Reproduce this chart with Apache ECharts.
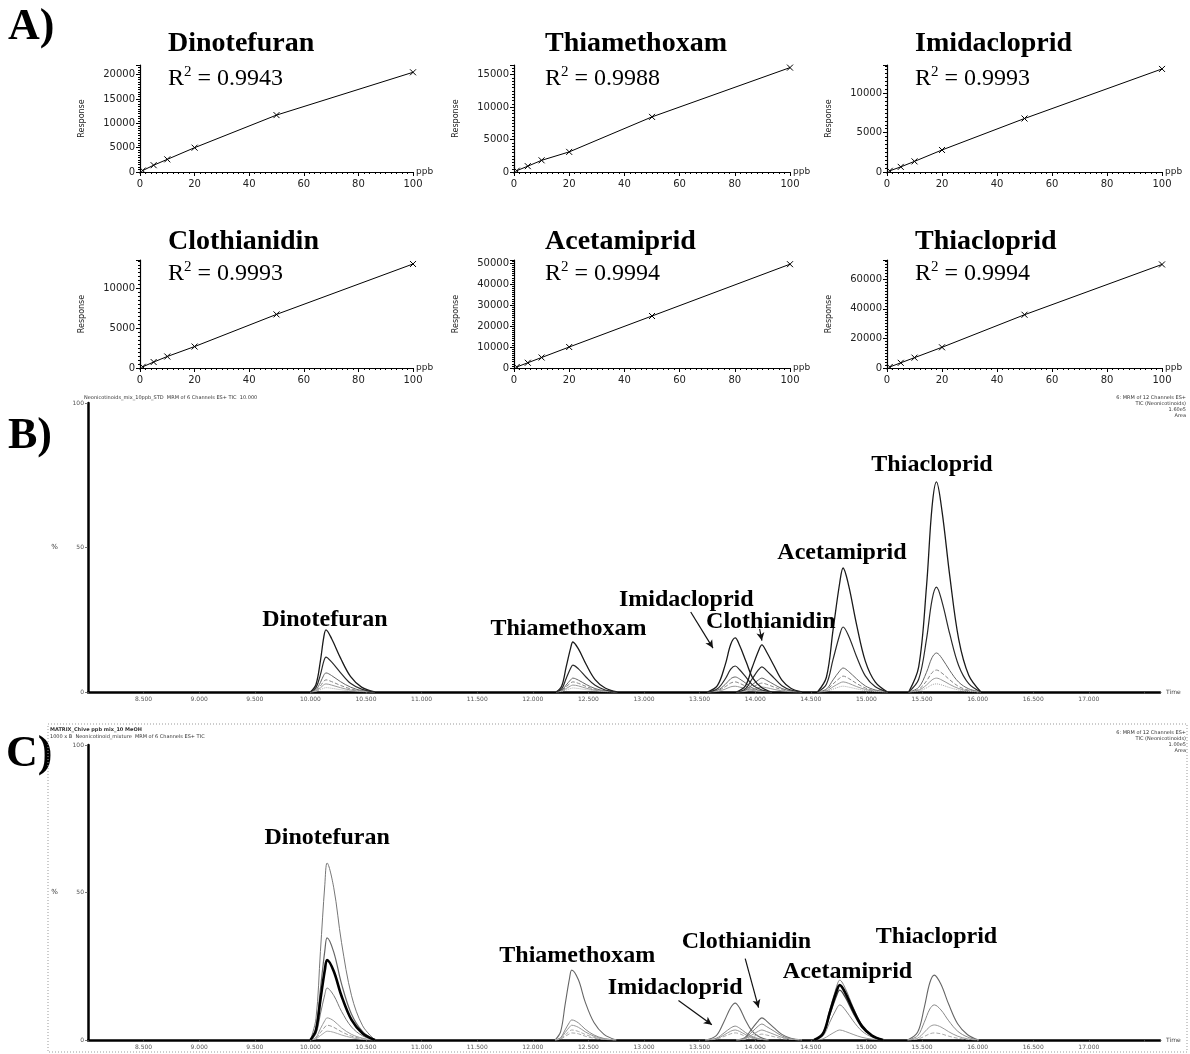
<!DOCTYPE html>
<html><head><meta charset="utf-8">
<script src="https://cdn.jsdelivr.net/npm/echarts@6/dist/echarts.min.js"></script>
<style>html,body{margin:0;padding:0;background:#fff}#c{width:1190px;height:1054px}</style>
</head><body><div id="c"></div>
<script>
// ===== Panel A: calibration curves =====
const compounds = ['Dinotefuran','Thiamethoxam','Imidacloprid','Clothianidin','Acetamiprid','Thiacloprid'];
const r2Values = ['0.9943','0.9988','0.9993','0.9993','0.9994','0.9994'];
const concPpb = [1, 5, 10, 20, 50, 100];
const respDinotefuran  = [300, 1400, 2600, 5000, 11700, 20500];
const respThiamethoxam = [200, 900, 1800, 3100, 8500, 16100];
const respImidacloprid = [150, 650, 1350, 2800, 6800, 13100];
const respClothianidin = [150, 750, 1450, 2700, 6750, 13100];
const respAcetamiprid  = [500, 2500, 5000, 10000, 24800, 49500];
const respThiacloprid  = [700, 3500, 7000, 14000, 36000, 70000];
const respAxisMax      = [22000, 16500, 13600, 13600, 51500, 73000];
const respAxisStep     = [5000, 5000, 5000, 5000, 10000, 20000];
const ppbAxisMax = 100, ppbAxisStep = 20;

// ===== Panel B: chromatogram of standards (time min, % intensity) =====
const tB_Dino = [10.00, 10.05, 10.09, 10.12, 10.14, 10.19, 10.27, 10.36, 10.46, 10.58];
const hB_Dino = [
  [0, 2.6, 10.8, 18.9, 21.5, 18.5, 11.8, 5.4, 1.7, 0],
  [0, 1.5, 6.0, 10.6, 12.1, 10.4, 6.7, 3.0, 1.0, 0],
  [0, 0.8, 3.3, 5.8, 6.6, 5.7, 3.6, 1.7, 0.5, 0],
  [0, 0.5, 2.1, 3.7, 4.2, 3.6, 2.3, 1.1, 0.3, 0],
  [0, 0.3, 1.4, 2.5, 2.8, 2.4, 1.5, 0.7, 0.2, 0],
  [0, 0.2, 0.8, 1.3, 1.5, 1.3, 0.8, 0.4, 0.1, 0]];
const tB_Thiam = [12.21, 12.26, 12.30, 12.34, 12.36, 12.41, 12.48, 12.56, 12.65, 12.76];
const hB_Thiam = [
  [0, 2.1, 8.7, 15.2, 17.3, 14.9, 9.5, 4.3, 1.4, 0],
  [0, 1.1, 4.7, 8.2, 9.3, 8.0, 5.1, 2.3, 0.7, 0],
  [0, 0.6, 2.4, 4.2, 4.8, 4.1, 2.6, 1.2, 0.4, 0],
  [0, 0.4, 1.8, 3.1, 3.5, 3.0, 1.9, 0.9, 0.3, 0],
  [0, 0.3, 1.2, 2.1, 2.4, 2.1, 1.3, 0.6, 0.2, 0],
  [0, 0.2, 0.7, 1.2, 1.4, 1.2, 0.8, 0.4, 0.1, 0]];
const tB_Imid = [13.57, 13.66, 13.73, 13.78, 13.82, 13.86, 13.92, 13.98, 14.06, 14.15];
const hB_Imid = [
  [0, 2.2, 9.4, 16.5, 18.7, 16.1, 10.3, 4.7, 1.5, 0],
  [0, 1.1, 4.5, 7.9, 9.0, 7.7, 5.0, 2.3, 0.7, 0],
  [0, 0.6, 2.6, 4.6, 5.2, 4.5, 2.9, 1.3, 0.4, 0],
  [0, 0.4, 1.8, 3.1, 3.5, 3.0, 1.9, 0.9, 0.3, 0],
  [0, 0.2, 1.0, 1.8, 2.0, 1.7, 1.1, 0.5, 0.2, 0]];
const tB_Clo = [13.83, 13.91, 13.97, 14.03, 14.06, 14.10, 14.17, 14.24, 14.32, 14.42];
const hB_Clo = [
  [0, 2.0, 8.2, 14.3, 16.3, 14.0, 9.0, 4.1, 1.3, 0],
  [0, 1.0, 4.4, 7.7, 8.7, 7.5, 4.8, 2.2, 0.7, 0],
  [0, 0.6, 2.4, 4.2, 4.8, 4.1, 2.6, 1.2, 0.4, 0],
  [0, 0.4, 1.6, 2.7, 3.1, 2.7, 1.7, 0.8, 0.2, 0],
  [0, 0.2, 0.9, 1.5, 1.7, 1.5, 0.9, 0.4, 0.1, 0]];
const tB_Acet = [14.56, 14.64, 14.70, 14.76, 14.79, 14.84, 14.91, 14.99, 15.08, 15.19];
const hB_Acet = [
  [0, 5.1, 21.5, 37.8, 42.9, 36.9, 23.6, 10.7, 3.4, 0],
  [0, 2.7, 11.3, 19.8, 22.5, 19.4, 12.4, 5.6, 1.8, 0],
  [0, 1.0, 4.2, 7.3, 8.3, 7.1, 4.6, 2.1, 0.7, 0],
  [0, 0.7, 2.8, 4.8, 5.5, 4.7, 3.0, 1.4, 0.4, 0],
  [0, 0.4, 1.8, 3.1, 3.5, 3.0, 1.9, 0.9, 0.3, 0],
  [0, 0.2, 1.0, 1.8, 2.0, 1.7, 1.1, 0.5, 0.2, 0]];
const tB_Thiac = [15.38, 15.47, 15.54, 15.59, 15.63, 15.68, 15.75, 15.83, 15.92, 16.03];
const hB_Thiac = [
  [0, 8.7, 36.4, 64.0, 72.7, 62.5, 40.0, 18.2, 5.8, 0],
  [0, 4.4, 18.2, 31.9, 36.3, 31.2, 20.0, 9.1, 2.9, 0],
  [0, 1.6, 6.8, 11.9, 13.5, 11.6, 7.4, 3.4, 1.1, 0],
  [0, 0.9, 3.8, 6.7, 7.6, 6.5, 4.2, 1.9, 0.6, 0],
  [0, 0.6, 2.4, 4.2, 4.8, 4.1, 2.6, 1.2, 0.4, 0],
  [0, 0.3, 1.4, 2.5, 2.8, 2.4, 1.5, 0.7, 0.2, 0]];
const bLabelTime  = [10.13, 12.32, 13.38, 14.14, 14.78, 15.59];
const bLabelLevel = [24.9, 21.8, 31.8, 24.2, 48.1, 78.5];
const bArrowFrom = [[13.42, 27.7], [14.04, 21.8]];
const bArrowTo   = [[13.62, 15.2], [14.06, 17.8]];

// ===== Panel C: chromatogram of matrix sample =====
const tC_Dino = [10.00, 10.05, 10.09, 10.13, 10.15, 10.21, 10.28, 10.37, 10.47, 10.58];
const hC_Dino = [
  [0, 7.2, 30.0, 52.8, 60.0, 51.6, 33.0, 15.0, 4.8, 0],
  [0, 4.2, 17.3, 30.4, 34.6, 29.8, 19.0, 8.7, 2.8, 0],
  [0, 3.3, 13.6, 23.8, 27.1, 23.3, 14.9, 6.8, 2.2, 0],
  [0, 2.1, 8.8, 15.5, 17.6, 15.1, 9.7, 4.4, 1.4, 0],
  [0, 0.9, 3.8, 6.6, 7.5, 6.5, 4.1, 1.9, 0.6, 0],
  [0, 0.6, 2.5, 4.4, 5.0, 4.3, 2.8, 1.3, 0.4, 0],
  [0, 0.4, 1.5, 2.6, 3.0, 2.6, 1.7, 0.8, 0.2, 0]];
const tC_Thiam = [12.20, 12.25, 12.29, 12.33, 12.35, 12.41, 12.47, 12.55, 12.64, 12.75];
const hC_Thiam = [
  [0, 2.8, 11.9, 20.9, 23.7, 20.4, 13.0, 5.9, 1.9, 0],
  [0, 0.8, 3.4, 6.0, 6.8, 5.8, 3.7, 1.7, 0.5, 0],
  [0, 0.6, 2.5, 4.4, 5.0, 4.3, 2.8, 1.3, 0.4, 0],
  [0, 0.4, 1.7, 3.0, 3.4, 2.9, 1.9, 0.9, 0.3, 0],
  [0, 0.3, 1.2, 2.1, 2.4, 2.1, 1.3, 0.6, 0.2, 0]];
const tC_Imid = [13.55, 13.65, 13.72, 13.78, 13.82, 13.86, 13.91, 13.97, 14.04, 14.12];
const hC_Imid = [
  [0, 1.5, 6.3, 11.0, 12.5, 10.8, 6.9, 3.1, 1.0, 0],
  [0, 0.6, 2.4, 4.1, 4.7, 4.0, 2.6, 1.2, 0.4, 0],
  [0, 0.4, 1.7, 3.0, 3.4, 2.9, 1.9, 0.9, 0.3, 0],
  [0, 0.3, 1.2, 2.1, 2.4, 2.1, 1.3, 0.6, 0.2, 0]];
const tC_Clo = [13.83, 13.91, 13.97, 14.03, 14.06, 14.10, 14.17, 14.24, 14.32, 14.42];
const hC_Clo = [
  [0, 0.9, 3.8, 6.6, 7.5, 6.5, 4.1, 1.9, 0.6, 0],
  [0, 0.6, 2.7, 4.8, 5.4, 4.6, 3.0, 1.4, 0.4, 0],
  [0, 0.4, 1.7, 3.0, 3.4, 2.9, 1.9, 0.9, 0.3, 0],
  [0, 0.2, 1.0, 1.8, 2.0, 1.7, 1.1, 0.5, 0.2, 0]];
const tC_Acet = [14.53, 14.61, 14.67, 14.73, 14.76, 14.81, 14.88, 14.96, 15.05, 15.15];
const hC_Acet = [
  [0, 2.4, 10.2, 17.9, 20.3, 17.5, 11.2, 5.1, 1.6, 0],
  [0, 2.2, 9.3, 16.4, 18.6, 16.0, 10.2, 4.7, 1.5, 0],
  [0, 2.0, 8.5, 14.9, 16.9, 14.5, 9.3, 4.2, 1.4, 0],
  [0, 1.4, 6.0, 10.5, 11.9, 10.2, 6.5, 3.0, 1.0, 0],
  [0, 0.4, 1.7, 3.0, 3.4, 2.9, 1.9, 0.9, 0.3, 0]];
const tC_Thiac = [15.37, 15.46, 15.52, 15.57, 15.61, 15.67, 15.74, 15.82, 15.91, 16.01];
const hC_Thiac = [
  [0, 2.6, 11.0, 19.4, 22.0, 18.9, 12.1, 5.5, 1.8, 0],
  [0, 1.4, 6.0, 10.5, 11.9, 10.2, 6.5, 3.0, 1.0, 0],
  [0, 0.6, 2.6, 4.5, 5.1, 4.4, 2.8, 1.3, 0.4, 0],
  [0, 0.3, 1.2, 2.1, 2.4, 2.1, 1.3, 0.6, 0.2, 0]];
const cLabelTime  = [10.15, 12.40, 13.28, 13.92, 14.83, 15.63];
const cLabelLevel = [68.5, 28.5, 17.6, 33.2, 23.1, 34.9];
const cArrowFrom = [[13.31, 13.4], [13.91, 27.6]];
const cArrowTo   = [[13.61, 5.2], [14.03, 11.0]];

const timeMin = 8.0, timeMax = 17.64, timeStep = 0.5;

// ===== build =====
const SERIF = '"Liberation Serif","Times New Roman",serif';
const SANS = '"DejaVu Sans","Liberation Sans",sans-serif';
const chart = echarts.init(document.getElementById('c'));
const grids = [], xAxes = [], yAxes = [], series = [], graphics = [];
const respAll = [respDinotefuran, respThiamethoxam, respImidacloprid, respClothianidin, respAcetamiprid, respThiacloprid];
const aCols = [{left:140, width:273}, {left:514, width:276}, {left:887, width:275}];
const aRows = [{top:65, height:107}, {top:260, height:108}];
const xSym = 'path://M0,0L10,10M10,0L0,10';

for (let i = 0; i < 6; i++) {
  const r = Math.floor(i / 3), c = i % 3;
  grids.push({left: aCols[c].left, width: aCols[c].width, top: aRows[r].top, height: aRows[r].height});
  xAxes.push({gridIndex:i, type:'value', min:0, max:ppbAxisMax, interval:ppbAxisStep,
    name:'ppb', nameLocation:'end', nameGap:3,
    nameTextStyle:{fontSize:9, fontFamily:SANS, color:'#222', verticalAlign:'middle'},
    axisLine:{onZero:false, lineStyle:{color:'#000', width:1.2}},
    axisTick:{length:4, lineStyle:{color:'#000'}},
    minorTick:{show:true, splitNumber:10, length:2, lineStyle:{color:'#000'}},
    axisLabel:{fontSize:10, fontFamily:SANS, color:'#222', margin:7},
    splitLine:{show:false}});
  const step = respAxisStep[i];
  yAxes.push({gridIndex:i, type:'value', min:0, max:respAxisMax[i], interval:step,
    name:'Response', nameLocation:'middle', nameGap:54, nameRotate:90,
    nameTextStyle:{fontSize:8, fontFamily:SANS, color:'#222'},
    axisLine:{show:true, onZero:false, lineStyle:{color:'#000', width:1.2}},
    axisTick:{show:true, length:4, lineStyle:{color:'#000'}},
    minorTick:{show:true, splitNumber:10, length:2, lineStyle:{color:'#000'}},
    axisLabel:{fontSize:10, fontFamily:SANS, color:'#222', margin:5,
      formatter: v => (v % step === 0 ? String(v) : '')},
    splitLine:{show:false}});
  series.push({type:'line', xAxisIndex:i, yAxisIndex:i,
    data: concPpb.map((x, j) => [x, respAll[i][j]]),
    symbol:xSym, symbolSize:6, showSymbol:true,
    itemStyle:{color:'#000', borderColor:'#000', borderWidth:1},
    lineStyle:{color:'#000', width:1}, animation:false, silent:true});
}

const chromGrids = [{top:403, height:289}, {top:745, height:295}];
chromGrids.forEach((g, k) => {
  const gi = 6 + k;
  grids.push({left:88, width:1072, top:g.top, height:g.height});
  xAxes.push({gridIndex:gi, type:'value', min:timeMin, max:timeMax, interval:timeStep,
    name:'Time', nameLocation:'end', nameGap:6,
    nameTextStyle:{fontSize:6, fontFamily:SANS, color:'#444', verticalAlign:'middle'},
    axisLine:{onZero:false, lineStyle:{color:'#000', width:2.5}},
    axisTick:{show:true, length:2, lineStyle:{color:'#555', width:0.8}},
    axisLabel:{fontSize:6, fontFamily:SANS, color:'#555', margin:4,
      formatter: v => (v <= timeMin + 0.01 || v > 17.2) ? '' : v.toFixed(3)},
    splitLine:{show:false}});
  yAxes.push({gridIndex:gi, type:'value', min:0, max:100, interval:50,
    name:'%', nameLocation:'middle', nameGap:30, nameRotate:0,
    nameTextStyle:{fontSize:7, fontFamily:SANS, color:'#333'},
    axisLine:{show:true, onZero:false, lineStyle:{color:'#000', width:2.5}},
    axisTick:{show:true, length:3, lineStyle:{color:'#555', width:0.8}},
    axisLabel:{fontSize:6, fontFamily:SANS, color:'#555', margin:4},
    splitLine:{show:false}});
});

function peakSeries(gi, times, traces, styles) {
  return traces.map((h, k) => {
    const st = styles[Math.min(k, styles.length - 1)];
    return {
      type:'line', xAxisIndex:gi, yAxisIndex:gi,
      data: times.map((t, j) => [t, h[j]]),
      smooth:0.35, symbol:'none', silent:true, animation:false,
      lineStyle: {type: st.type || 'solid', color: st.color, width: st.width},
      z: 5 + (st.z || 0)
    };
  });
}
const stB = [{color:'#1a1a1a', width:1.3, z:3}, {color:'#2a2a2a', width:1.2, z:3},
  {color:'#666', width:1}, {color:'#888', width:1, type:'dashed'}, {color:'#999', width:1}, {color:'#aaa', width:1, type:'dotted'}];
const stC = [{color:'#666', width:1.1}, {color:'#888', width:1}, {color:'#999', width:1}, {color:'#aaa', width:1, type:'dashed'}];
const stC_Dino = [{color:'#777', width:1}, {color:'#666', width:1.2}, {color:'#000', width:2.6, z:3},
  {color:'#777', width:1}, {color:'#999', width:1}, {color:'#999', width:1, type:'dashed'}, {color:'#aaa', width:1}];
const stC_Acet = [{color:'#777', width:1}, {color:'#000', width:2.6, z:3}, {color:'#444', width:1.4},
  {color:'#888', width:1}, {color:'#999', width:1}];

series.push(...peakSeries(6, tB_Dino, hB_Dino, stB));
series.push(...peakSeries(6, tB_Thiam, hB_Thiam, stB));
series.push(...peakSeries(6, tB_Imid, hB_Imid, stB));
series.push(...peakSeries(6, tB_Clo, hB_Clo, stB));
series.push(...peakSeries(6, tB_Acet, hB_Acet, stB));
series.push(...peakSeries(6, tB_Thiac, hB_Thiac, stB));
series.push(...peakSeries(7, tC_Dino, hC_Dino, stC_Dino));
series.push(...peakSeries(7, tC_Thiam, hC_Thiam, stC));
series.push(...peakSeries(7, tC_Imid, hC_Imid, stC));
series.push(...peakSeries(7, tC_Clo, hC_Clo, stC));
series.push(...peakSeries(7, tC_Acet, hC_Acet, stC_Acet));
series.push(...peakSeries(7, tC_Thiac, hC_Thiac, stC));

function labelSeries(gi, times, levels, from, to) {
  return {type:'scatter', xAxisIndex:gi, yAxisIndex:gi, symbolSize:0, silent:true, animation:false,
    itemStyle:{color:'#000'}, z:20,
    data: times.map((t, k) => ({name: compounds[k], value:[t, levels[k]]})),
    label:{show:true, position:'inside', formatter:'{b}', color:'#000', textBorderWidth:0,
      textShadowBlur:0, opacity:1,
      fontFamily:SERIF, fontWeight:'bold', fontSize:24},
    markLine:{silent:true, animation:false, symbol:['none','arrow'], symbolSize:[6,8],
      lineStyle:{color:'#111', width:1.2, type:'solid'}, label:{show:false},
      data: from.map((f, k) => [{coord:f}, {coord:to[k]}])}
  };
}
series.push(labelSeries(6, bLabelTime, bLabelLevel, bArrowFrom, bArrowTo));
series.push(labelSeries(7, cLabelTime, cLabelLevel, cArrowFrom, cArrowTo));

// titles & annotations
const panelLetter = (t, x, y) => ({type:'text', x, y, silent:true,
  style:{text:t, fontFamily:SERIF, fontWeight:'bold', fontSize:44, fill:'#000', verticalAlign:'middle'}});
graphics.push(panelLetter('A)', 8, 28), panelLetter('B)', 8, 437), panelLetter('C)', 6, 755));
const titleX = [168, 545, 915], titleY = [44, 242], r2Y = [78, 273];
for (let i = 0; i < 6; i++) {
  const r = Math.floor(i / 3), c = i % 3;
  graphics.push({type:'text', x:titleX[c], y:titleY[r], silent:true,
    style:{text:compounds[i], fontFamily:SERIF, fontWeight:'bold', fontSize:28, fill:'#000', verticalAlign:'middle'}});
  graphics.push({type:'text', x:titleX[c], y:r2Y[r], silent:true,
    style:{text:'{r|R}{s|2}{r| = ' + r2Values[i] + '}', verticalAlign:'middle',
      rich:{r:{fontFamily:SERIF, fontSize:24, fill:'#000', lineHeight:26, verticalAlign:'bottom'},
            s:{fontFamily:SERIF, fontSize:15, fill:'#000', lineHeight:26, verticalAlign:'top'}}}});
}
const tiny = (t, x, y, align, weight) => ({type:'text', x, y, silent:true,
  style:{text:t, fontFamily:SANS, fontSize:5, fill:'#333', align:align || 'left', fontWeight: weight || 'normal', lineHeight:6}});
graphics.push(tiny('Neonicotinoids_mix_10ppb_STD  MRM of 6 Channels ES+ TIC  10.000', 84, 395));
graphics.push(tiny('6: MRM of 12 Channels ES+\nTIC (Neonicotinoids)\n1.60e5\nArea', 1186, 395, 'right'));
graphics.push(tiny('MATRIX_Chive ppb mix_10 MeOH', 50, 727, 'left', 'bold'));
graphics.push(tiny('1000 x B  Neonicotinoid_mixture  MRM of 6 Channels ES+ TIC', 50, 734));
graphics.push(tiny('6: MRM of 12 Channels ES+\nTIC (Neonicotinoids)\n1.00e5\nArea', 1186, 730, 'right'));
graphics.push({type:'rect', silent:true, shape:{x:48, y:724, width:1139, height:328},
  style:{fill:'none', stroke:'#999', lineWidth:1, lineDash:[1,2]}});

chart.setOption({
  animation:false, backgroundColor:'#fff',
  grid:grids, xAxis:xAxes, yAxis:yAxes, series:series, graphic:graphics
});
</script></body></html>
